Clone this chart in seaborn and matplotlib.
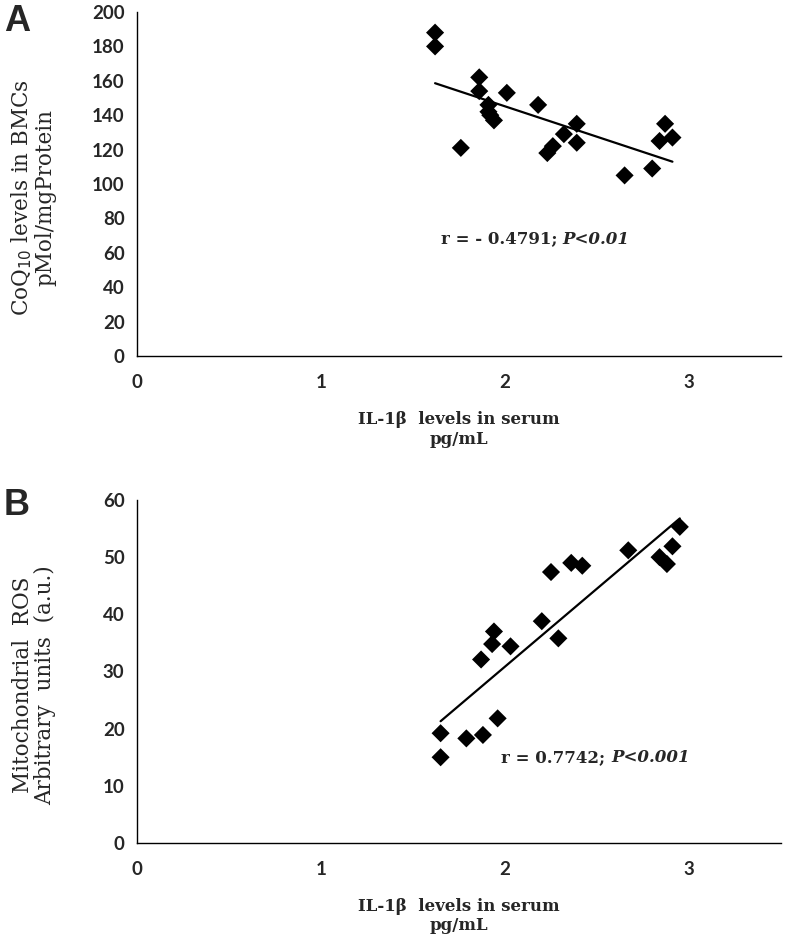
import matplotlib

matplotlib.use("Agg")
import matplotlib.pyplot as plt
import pandas as pd
import seaborn as sns

# Panel A: serum IL-1b vs CoQ10 in BMCs
il1b_a = [1.62, 1.62, 1.86, 1.86, 2.01, 1.91, 1.91, 1.92, 1.94, 2.18, 1.76,
          2.23, 2.26, 2.32, 2.39, 2.39, 2.65, 2.80, 2.87, 2.84, 2.91]
coq10 = [188, 180, 162, 154, 153, 146, 142, 140, 137, 146, 121,
         118, 122, 129, 135, 124, 105, 109, 135, 125, 127]

# Panel B: serum IL-1b vs mitochondrial ROS
il1b_b = [1.65, 1.65, 1.79, 1.88, 1.96, 1.87, 1.93, 1.94, 2.03, 2.20, 2.29,
          2.25, 2.36, 2.42, 2.67, 2.84, 2.88, 2.91, 2.95]
mito_ros = [19.2, 15.0, 18.3, 18.9, 21.8, 32.1, 34.8, 37.0, 34.4, 38.8, 35.8,
            47.4, 49.0, 48.5, 51.2, 50.0, 48.8, 51.9, 55.3]

x_ticks = [0, 1, 2, 3]

sns.set_style("white")
plt.rcParams["font.family"] = ["Lato", "DejaVu Sans"]

df_a = pd.DataFrame({"il1b": il1b_a, "value": coq10})
df_b = pd.DataFrame({"il1b": il1b_b, "value": mito_ros})

fig = plt.figure(figsize=(7.92, 9.51), dpi=100)
W, H = 792, 951
ax_a = fig.add_axes([137 / W, 1 - 356 / H, 644 / W, 344 / H])
ax_b = fig.add_axes([137 / W, 1 - 843 / H, 644 / W, 343 / H])

serif = "DejaVu Serif"
panels = [
    (ax_a, df_a, (0, 200), range(0, 201, 20),
     "CoQ$_{10}$ levels in BMCs\npMol/mgProtein", 0.46,
     (1.65, 68), "r = - 0.4791; ", "P<0.01"),
    (ax_b, df_b, (0, 60), range(0, 61, 10),
     "Mitochondrial  ROS\nArbitrary  units  (a.u.)", 0.46,
     (1.98, 15), "r = 0.7742; ", "P<0.001"),
]

for ax, df, ylim, yticks, ylabel, ylab_pos, txt_xy, r_txt, p_txt in panels:
    sns.regplot(data=df, x="il1b", y="value", ax=ax, ci=None,
                marker="D", color="black",
                scatter_kws={"s": 85, "edgecolors": "none", "alpha": 1},
                line_kws={"lw": 1.6})
    ax.set_xlim(0, 3.5)
    ax.set_ylim(*ylim)
    ax.set_xticks(x_ticks)
    ax.set_yticks(list(yticks))
    ax.tick_params(length=0, labelsize=13.5)
    ax.tick_params(axis="y", pad=9)
    ax.tick_params(axis="x", pad=13)
    for lab in ax.get_xticklabels() + ax.get_yticklabels():
        lab.set_fontweight("bold")
    sns.despine(ax=ax)
    for side in ["left", "bottom"]:
        ax.spines[side].set_color("black")
        ax.spines[side].set_linewidth(1.0)

    ax.set_xlabel("IL-1β  levels in serum\npg/mL", fontsize=12,
                  fontweight="bold", family=serif, linespacing=1.2)
    ax.xaxis.set_label_coords(0.5, -0.16)
    ax.set_ylabel(ylabel, fontsize=15.5, family=serif, linespacing=1.0)
    ax.yaxis.set_label_coords(-0.125, ylab_pos)

    t = ax.text(txt_xy[0], txt_xy[1], r_txt, fontsize=12, fontweight="bold",
                family=serif, va="center", ha="left")
    ax.annotate(p_txt, xy=(1, 0.5), xycoords=t, va="center", ha="left",
                fontsize=12, fontweight="bold", fontstyle="italic",
                family=serif)

fig.text(4 / W, 1 - 4 / H, "A", fontsize=26, fontweight="bold",
         family="Liberation Sans", va="top", ha="left")
fig.text(4 / W, 1 - 488 / H, "B", fontsize=26, fontweight="bold",
         family="Liberation Sans", va="top", ha="left")

fig.savefig("out.png", dpi=100)
